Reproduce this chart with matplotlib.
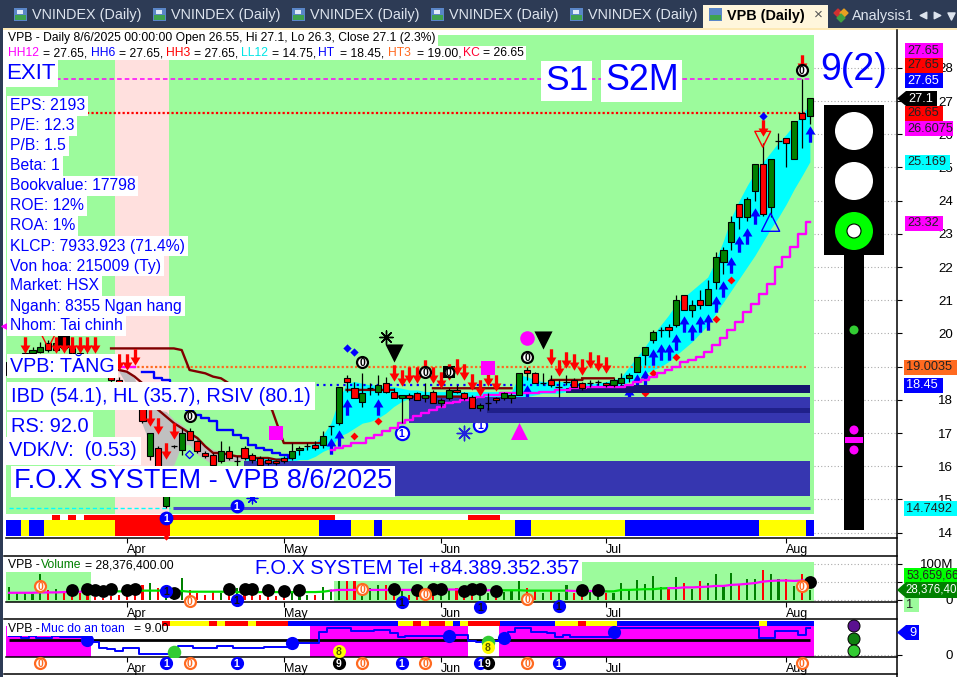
import numpy as np
import matplotlib
matplotlib.use("Agg")
import matplotlib.pyplot as plt
from matplotlib.path import Path
from matplotlib.patches import Rectangle, Circle, Polygon

plt.rcParams["font.family"] = ["Liberation Sans", "DejaVu Sans"]

W, H = 957, 677

# price candles, one row per session
opens = [18.75, 19.1, 19.3, 19.4, 19.45, 19.7, 19.5, 19.7, 19.55, 19.4, 19.25, 19.1, 18.95, 18.8, 18.6, 18.45, 18.3,
         17.75, 16.3, 16.55, 14.8, 16.6, 16.5, 17.05, 16.75, 16.4, 16.35, 16.15, 16.45, 16.15, 16.55, 16.35, 16.25,
         16.2, 16.15, 16.25, 16.25, 16.5, 16.6, 16.65, 16.65, 17.2, 17.3, 18.65, 18.35, 17.95, 18.35, 18.25, 18.5,
         18.25, 18.05, 18.15, 18.2, 18.05, 18.25, 17.9, 18.05, 18.3, 18.2, 18.1, 17.75, 17.9, 18.05, 18.05, 18.05,
         18.15, 18.9, 18.8, 18.5, 18.6, 18.4, 18.55, 18.6, 18.5, 18.5, 18.55, 18.5, 18.45, 18.5, 18.65, 18.85, 19.35,
         19.8, 20.1, 20.2, 20.25, 21.15, 20.7, 21.0, 20.85, 21.55, 22.15, 22.75, 23.9, 23.5, 24.3, 25.1, 23.8, 25.8,
         25.9, 25.25, 26.65, 26.55]
highs = [19.15, 19.35, 19.5, 19.6, 19.75, 19.8, 19.75, 19.8, 19.65, 19.55, 19.4, 19.2, 19.05, 18.85, 18.7, 18.55, 18.4,
         17.75, 17.0, 16.6, 15.6, 16.65, 17.15, 17.15, 16.8, 16.45, 16.4, 16.75, 16.6, 16.3, 16.6, 16.4, 16.3,
         16.25, 16.2, 16.3, 16.7, 16.6, 16.7, 16.75, 17.05, 17.2, 18.4, 18.75, 18.55, 18.8, 18.5, 18.75, 18.7,
         18.35, 18.15, 18.2, 18.25, 18.5, 18.3, 18.05, 18.35, 18.45, 18.25, 18.15, 17.9, 18.2, 18.1, 18.25, 18.2,
         18.8, 19.0, 18.85, 18.8, 18.75, 18.6, 18.75, 18.65, 18.55, 18.6, 18.6, 18.55, 18.65, 18.8, 18.8, 19.3, 19.6,
         20.1, 20.2, 20.3, 21.15, 21.15, 21.0, 21.3, 21.6, 22.45, 22.6, 23.55, 23.9, 24.1, 25.1, 25.75, 25.25, 26.05,
         25.9, 26.4, 27.65, 27.1]
lows = [18.75, 19.0, 19.2, 19.3, 19.4, 19.45, 19.45, 19.5, 19.3, 19.2, 19.0, 18.85, 18.7, 18.55, 18.3, 18.2, 17.9,
        17.3, 16.2, 15.5, 14.75, 16.55, 16.35, 16.8, 16.4, 16.25, 16.05, 16.1, 16.2, 16.0, 16.2, 16.1, 16.0,
        16.05, 16.05, 16.1, 16.2, 16.35, 16.5, 16.5, 16.55, 16.95, 17.25, 18.25, 18.05, 17.8, 18.15, 18.15, 18.2,
        18.05, 17.3, 18.0, 18.0, 17.95, 17.9, 17.8, 18.0, 18.2, 18.0, 17.75, 17.65, 17.7, 17.9, 18.0, 17.9,
        18.15, 18.6, 18.5, 18.45, 18.4, 18.1, 18.45, 18.4, 18.3, 18.4, 18.45, 18.4, 18.4, 18.45, 18.55, 18.85, 19.05,
        19.7, 19.9, 19.9, 20.2, 20.7, 20.5, 20.75, 20.85, 21.35, 21.8, 22.5, 23.15, 23.4, 24.0, 23.55, 23.5, 25.55,
        25.0, 25.25, 25.6, 26.3]
closes = [19.15, 19.3, 19.4, 19.5, 19.6, 19.5, 19.7, 19.55, 19.4, 19.25, 19.1, 18.95, 18.8, 18.6, 18.4, 18.3, 18.0,
          17.35, 17.0, 15.6, 15.5, 16.6, 17.0, 16.8, 16.45, 16.3, 16.05, 16.45, 16.25, 16.15, 16.25, 16.2, 16.05,
          16.1, 16.1, 16.15, 16.45, 16.55, 16.6, 16.55, 16.9, 17.2, 18.4, 18.55, 18.05, 18.2, 18.35, 18.45, 18.25,
          18.05, 18.15, 18.05, 18.0, 18.15, 17.9, 18.0, 18.3, 18.25, 18.05, 17.75, 17.85, 17.9, 18.0, 18.2, 18.15,
          18.8, 18.8, 18.5, 18.5, 18.45, 18.4, 18.55, 18.4, 18.35, 18.5, 18.55, 18.45, 18.6, 18.65, 18.75, 19.3, 19.6,
          20.05, 20.1, 20.1, 21.0, 20.7, 20.85, 20.85, 21.35, 22.3, 22.5, 23.35, 23.5, 24.05, 25.1, 23.6, 25.25, 25.8,
          25.75, 26.4, 26.45, 27.1]

month_pos = [15, 35, 55, 76, 99]
month_names = ["Apr", "May", "Jun", "Jul", "Aug"]
price_ticks = list(range(14, 29))

# bands
cyan_x = list(range(30, 103))
cyan_up = [16.25, 16.25, 16.25, 16.25, 16.25, 16.3, 16.4, 16.5, 16.6, 16.7, 16.95, 17.3, 18.0, 18.5, 18.55, 18.5,
           18.45, 18.45, 18.4, 18.4, 18.35, 18.3, 18.3, 18.25, 18.25, 18.25, 18.25, 18.25, 18.25, 18.25, 18.25, 18.25,
           18.25, 18.25, 18.25, 18.75, 18.7, 18.6, 18.55, 18.55, 18.55, 18.55, 18.55, 18.5, 18.5, 18.5, 18.55, 18.6,
           18.7, 19.0, 19.3, 19.6, 19.95, 20.25, 20.55, 20.9, 21.1, 21.3, 21.5, 21.7, 22.2, 22.8, 23.5, 24.0, 24.45,
           24.85, 25.15, 25.45, 25.75, 26.0, 26.3, 26.6, 26.9]
cyan_lo = [16.2, 16.15, 16.15, 16.15, 16.1, 16.1, 16.15, 16.2, 16.2, 16.3, 16.45, 16.55, 16.9, 17.0, 17.15, 17.3,
           17.35, 17.45, 17.6, 17.8, 17.95, 18.05, 18.1, 18.05, 18.05, 18.05, 18.05, 18.05, 18.05, 18.05, 18.05, 18.05,
           18.05, 18.05, 18.05, 18.05, 18.1, 18.15, 18.2, 18.2, 18.2, 18.25, 18.25, 18.3, 18.3, 18.3, 18.35, 18.4,
           18.45, 18.55, 18.65, 18.8, 18.9, 19.0, 19.15, 19.35, 19.55, 19.75, 20.0, 20.25, 20.6, 20.95, 21.3, 21.65,
           22.0, 22.35, 22.75, 23.15, 23.5, 23.9, 24.35, 24.75, 25.17]
gray_x = list(range(14, 31))
gray_up = [18.9, 18.85, 18.65, 17.85, 17.75, 17.7, 17.65, 17.4, 17.25, 17.05, 16.8, 16.65, 16.5, 16.45, 16.35, 16.3, 16.3]
gray_lo = [18.85, 18.45, 18.15, 17.25, 16.65, 15.9, 15.9, 16.05, 16.65, 16.65, 16.35, 16.2, 16.05, 16.15, 16.15, 16.15, 16.2]

# support / resistance blocks
block_start = [29.9, 50.9, 60.9, 70.9, 77.8]
block_lo = [15.1, 17.3, 17.6, 18.2, 18.2]
block_hi = [16.15, 18.1, 17.75, 18.35, 18.45]
block_col = ["#3636b0", "#3636b0", "#20208a", "#14146e", "#14146e"]

# lines
trail_x = [14, 15, 16] + list(range(41, 103))
trail_y = [19.0, 19.0, 19.0, 16.5, 16.55, 16.6, 16.7, 16.7, 16.85, 16.95, 17.05, 17.15, 17.3, 17.4, 17.5, 17.6, 17.7,
           17.8, 17.9, 17.95, 18.0, 18.05, 18.1, 18.15, 18.15, 18.2, 18.2, 18.2, 18.2, 18.2, 18.25, 18.25, 18.3, 18.3,
           18.35, 18.35, 18.4, 18.4, 18.4, 18.4, 18.4, 18.45, 18.55, 18.6, 18.7, 18.8, 18.9, 19.0, 19.15, 19.2, 19.3,
           19.45, 19.65, 19.85, 20.1, 20.35, 20.65, 20.9, 21.2, 21.5, 22.0, 22.3, 22.6, 23.0, 23.35]
blue_step_x = list(range(17, 37))
blue_step_y = [18.85, 18.85, 18.65, 18.6, 18.4, 18.0, 17.7, 17.55, 17.45, 17.35, 17.1, 17.1, 16.95, 16.85, 16.65, 16.55,
               16.5, 16.4, 16.35, 16.25]
res_x = list(range(13, 34)) + [33.5, 35, 40, np.nan] + list(range(14, 18)) + [np.nan] + list(range(19, 36)) + [np.nan]
res_y = [19.55] * 9 + [19.5, 18.9, 18.85, 18.8, 18.7, 18.65, 18.5, 18.4, 18.3, 18.1, 17.95, 17.8, 17.7, 16.7, 16.7, np.nan,
         18.9, 18.85, 18.7, 18.5, np.nan, 17.7, 17.5, 17.3, 17.15, 17.0, 16.85, 16.6, 16.4, 16.4, 16.35, 16.3, 16.3,
         16.25, 16.25, 16.25, 16.2, 16.2, np.nan]
res_x += [43, 49, np.nan, 49, 58, np.nan, 54, 64, np.nan, 69, 73, np.nan, 73, 77]
res_y += [18.3, 18.3, np.nan, 18.1, 18.1, np.nan, 18.35, 18.35, np.nan, 18.6, 18.6, np.nan, 18.65, 18.65]

# arrows
down_x = [2, 6, 7, 8, 9, 10, 11, 14, 15, 16, 18, 19, 20, 21, 49, 50, 51, 52, 53, 54, 55, 56, 57, 58, 59, 60, 61, 62,
          69, 70, 71, 72, 73, 74, 75, 76, 96, 101]
down_y = [19.65, 19.65, 19.65, 19.65, 19.65, 19.65, 19.65, 19.15, 19.15, 19.3, 17.45, 17.2, 16.45, 17.05, 18.8, 18.65,
          18.75, 18.75, 18.95, 18.75, 18.6, 18.85, 19.0, 18.85, 18.55, 18.35, 18.65, 18.5, 19.3, 18.95, 19.2, 19.15,
          19.0, 19.2, 19.1, 19.05, 26.2, 28.15]
up_x = [41, 42, 43, 47, 66, 79, 80, 81, 82, 83, 84, 85, 86, 87, 88, 89, 90, 91, 92, 93, 94, 95, 102]
up_y = [16.6, 16.85, 17.8, 17.8, 18.2, 18.15, 18.55, 18.65, 19.3, 19.45, 19.45, 19.75, 20.3, 20.05, 20.3, 20.35, 20.9,
        21.35, 22.05, 22.7, 22.95, 23.55, 26.0]

# small marks
red_dia_x = [44, 47, 81, 82, 85, 90, 92]
red_dia_y = [16.9, 17.35, 18.2, 18.8, 19.3, 20.45, 21.6]
blue_dia_x = [43, 44, 96]
blue_dia_y = [19.55, 19.45, 26.55]
ring_x = [45, 53, 66, 23, 101]
ring_y = [19.15, 18.85, 19.3, 17.5, 27.95]
one_x = [50, 60]
one_y = [17.0, 17.25]
one_fill_x = [29, 20]
one_fill_y = [14.8, 14.45]

# volume pane, millions
volumes = [37, 21, 19, 17, 73, 29, 30, 21, 24, 19, 24, 8, 6, 12, 15, 15, 42, 42, 47, 33, 40, 29, 61, 29, 19, 15, 21, 19,
           15, 33, 29, 17, 15, 12, 12, 19, 24, 21, 15, 15, 36, 29, 57, 57, 52, 47, 33, 42, 42, 19, 29, 15, 19, 29, 33,
           33, 29, 33, 29, 24, 24, 19, 8, 21, 29, 57, 33, 24, 19, 24, 19, 42, 19, 12, 24, 12, 19, 19, 47, 24, 55, 45,
           68, 36, 36, 64, 47, 31, 52, 47, 73, 42, 75, 42, 57, 58, 84, 73, 57, 57, 40, 73, 28.4]
vol_ma = [20, 20, 20, 20, 21, 21, 21, 22, 22, 23, 24, 24, 24, 24, 24, 24, 25, 26, 26, 26, 27, 25, 25, 23, 23, 23, 23, 23,
          23, 22, 22, 22, 22, 22, 22, 22, 22, 22, 22, 22, 23, 26, 28, 28, 28, 28, 28, 28, 28, 28, 28, 28, 28, 28, 28,
          29, 29, 29, 29, 28, 27, 27, 27, 27, 27, 27, 26, 26, 26, 26, 26, 26, 25, 25, 25, 24, 24, 24, 28, 28, 29, 30,
          30, 32, 33, 33, 35, 35, 36, 37, 39, 39, 42, 43, 45, 47, 51, 53, 54, 54, 53, 54, 54]
ma_runs = [(11, "#ff00ff"), (30, "#00e000"), (21, "#ff00ff"), (9, "#00e000"), (5, "#ff00ff"), (8, "#00e000"),
           (19, "#ff00ff")]
black_x = [8, 10, 11, 12, 13, 15, 16, 21, 28, 30, 31, 33, 35, 37, 49, 52, 54, 55, 58, 59, 60, 62, 73, 75, 102]
black_y = [28, 30, 28, 26, 30, 28, 30, 20, 30, 30, 30, 28, 26, 28, 30, 28, 30, 30, 26, 30, 30, 26, 29, 28, 49]
vol_zero_x = [4, 23, 45, 53, 66, 101]
vol_zero_y = [40, -4, 31, 16, 3, 40]
vol_one_x = [20, 29, 50, 60, 70]
vol_one_y = [24, -1, -6, -19, -16]

# safety pane
safety = [6.2, 6.4, 5.8, 6.4, 5.8, 5.8, 6.2, 6.0, 6.0, 5.9, 5.0, 4.4, 2.2, 2.0, 1.2, 2.3, 2.3, 0.4, 0.4, 0.3, 0.3, 0.3,
          3.1, 3.1, 2.3, 2.3, 2.3, 3.1, 3.1, 2.3, 2.3, 2.3, 2.3, 2.5, 2.5, 2.5, 4.0, 4.0, 4.0, 4.0, 7.6, 9.0, 9.0, 9.0,
          7.9, 7.9, 7.9, 8.2, 8.2, 7.3, 6.0, 6.2, 6.2, 6.2, 6.2, 6.2, 6.2, 6.5, 6.5, 4.6, 4.3, 4.6, 4.6, 5.7, 7.5, 9.0,
          9.0, 7.6, 7.6, 7.2, 6.0, 6.8, 5.9, 5.9, 5.9, 5.9, 5.9, 7.6, 9.0, 9.0, 9.0, 9.0, 9.0, 9.0, 9.0, 9.0, 9.0, 9.0,
          9.0, 9.0, 9.0, 9.0, 9.0, 9.0, 9.0, 9.0, 5.7, 5.7, 7.9, 7.9, 7.9, 6.8, 9.0]
safety_blue_x = [10, 36, 56, 63, 77]
safety_top_runs = [("r", 1), ("y", 5), ("r", 1), ("y", 1), ("r", 3), ("y", 1), ("r", 4), ("b", 14), ("y", 2), ("r", 1),
                   ("y", 1), ("r", 2), ("y", 1), ("b", 1), ("y", 1), ("r", 4), ("b", 7), ("y", 3), ("r", 1), ("y", 4),
                   ("b", 18), ("y", 1), ("b", 6)]
strip_low_runs = [("b", 2), ("y", 1), ("b", 2), ("y", 9), ("r", 7), ("y", 19), ("b", 4), ("y", 3), ("b", 1), ("y", 17),
                  ("b", 2), ("y", 12), ("b", 17), ("y", 6), ("b", 1)]
strip_top_bars = [6, 8] + list(range(10, 42)) + [59, 60, 61, 62]
run_col = {"r": "#ff0000", "y": "#ffff00", "b": "#0000ff"}

GREEN = "#9cfb9c"
PINK = "#ffe0de"
CANDLE_G = "#008000"
BLUE = "#0000ff"


def pane(y0, y1):
    # axes between two pixel rows, same bar scale everywhere
    a = fig.add_axes([6 / W, 1 - y1 / H, (897 - 6) / W, (y1 - y0) / H])
    a.set_xlim(-0.38, 113.1)
    a.patch.set_alpha(0)
    for s in ["top", "left"]:
        a.spines[s].set_visible(False)
    a.spines["right"].set_visible(False)
    return a


def right_ticks(a, ticks, labels):
    a.yaxis.tick_right()
    a.set_yticks(ticks)
    a.set_yticklabels(labels, fontsize=9.6)
    a.tick_params(axis="y", length=3.6, width=0.8, pad=36.7)
    for t in a.yaxis.get_major_ticks():
        t.label2.set_ha("right")
    a.hlines(ticks, 102.5, 113.1, color="#aaaaaa", lw=0.8, ls=(0, (1, 2)))


def month_ticks(a):
    a.set_xticks(month_pos)
    a.set_xticklabels(month_names, fontsize=9, ha="left")
    a.tick_params(axis="x", length=3.6, width=0.8, pad=1)
    a.spines["bottom"].set_linewidth(1.1)


def runs(a, seq, start, y, h):
    pos = start
    for code, n in seq:
        a.broken_barh([(pos - 0.5, n)], (y, h), color=run_col[code], lw=0)
        pos += n


def badge(a, x, y, txt, edge, face="white", col=None, size=68, z=7):
    a.scatter([x], [y], s=size, facecolor=face, edgecolor=edge, lw=1.6, zorder=z, clip_on=False)
    a.text(x, y, txt, color=col or edge, fontsize=7.5, fontweight="bold", ha="center", va="center_baseline",
           zorder=z + 0.1, clip_on=False)


fig = plt.figure(figsize=(W / 100, H / 100), dpi=100)

# ---- colour strip under the price pane
strip = pane(515, 537)
strip.set_ylim(22, 0)
strip.axis("off")
for b in strip_top_bars:
    strip.broken_barh([(b - 0.5, 1)], (0, 5), color="#ff0000", lw=0)
runs(strip, strip_low_runs, 0, 5, 16)

# ---- price pane
ax = pane(30, 538)
ax.set_zorder(3)
ax.set_ylim(13.84, 29.14)
ax.add_patch(Rectangle((-0.38, 14.57), 102.88, 14.42, fc=GREEN, ec="none", zorder=0))
ax.add_patch(Rectangle((13.5, 14.57), 6.9, 14.42, fc=PINK, ec="none", zorder=0.1))
ax.fill_between(gray_x, gray_lo, gray_up, color="#c0c0c0", lw=0, zorder=1)
ax.fill_between(cyan_x, cyan_lo, cyan_up, color="#00ffff", lw=0, zorder=1)

arrow_down = Path([(-0.1, 0.5), (0.1, 0.5), (0.1, 0), (0.3, 0), (0, -0.5), (-0.3, 0), (-0.1, 0), (-0.1, 0.5)],
                  closed=True)
arrow_up = Path([(-0.1, -0.5), (0.1, -0.5), (0.1, 0), (0.3, 0), (0, 0.5), (-0.3, 0), (-0.1, 0), (-0.1, -0.5)],
                closed=True)
ax.scatter(up_x, up_y, marker=arrow_up, s=140, color=BLUE, lw=0, zorder=2.5)
ax.scatter(red_dia_x, red_dia_y, marker="D", s=16, color="#ff0000", lw=0, zorder=2.5)
ax.scatter([65], [17.05], marker="^", s=150, color="#ff00ff", lw=0, zorder=2.5)
ax.scatter([31], [15.05], marker=(8, 2, 0), s=60, color=BLUE, lw=0.9, zorder=2.5)
for x, y in zip(one_x, one_y):
    badge(ax, x, y, "1", BLUE, z=2.6, size=90)

for x0, lo, hi, c in zip(block_start, block_lo, block_hi, block_col):
    ax.broken_barh([(x0, 102 - x0)], (lo, hi - lo), color=c, lw=0, zorder=3)

ax.hlines(27.65, 6, 102, color="#ff00ff", lw=1.1, ls=(0, (3, 2)), zorder=2)
ax.hlines(26.65, 10, 102, color="#ff0000", lw=1.6, ls=(0, (1, 1)), zorder=2)
ax.hlines(19.0, 13.5, 101.5, color="#ff6a20", lw=1.6, ls=(0, (1, 1)), zorder=2)
ax.hlines(18.45, 38.3, 77.5, color=BLUE, lw=1.6, ls=(0, (1, 2)), zorder=2.2)
ax.hlines(14.75, 0, 20.5, color="#00ffff", lw=1.0, ls=(0, (3, 2)), zorder=2)
ax.hlines(14.75, 20.9, 102, color="#4444cc", lw=2.2, zorder=2)
ax.plot(res_x, res_y, color="#800000", lw=1.7, zorder=3.5)
ax.step(trail_x[3:], trail_y[3:], where="mid", color="#ff00ff", lw=1.7, zorder=3.4)
ax.plot(trail_x[:3], trail_y[:3], color="#ff00ff", lw=1.7, zorder=3.4)
ax.step(blue_step_x, blue_step_y, where="mid", color=BLUE, lw=1.7, zorder=3.4)

# candles
idx = np.arange(len(opens))
ax.vlines(idx, lows, highs, color="black", lw=0.9, zorder=4)
for i, o, c in zip(idx, opens, closes):
    if c == o:
        ax.hlines(c, i - 0.4, i + 0.4, color="black", lw=0.9, zorder=4.1)
    else:
        ax.bar(i, abs(c - o), bottom=min(o, c), width=0.78, color=CANDLE_G if c > o else "#ff0000",
               edgecolor="black", lw=0.8, zorder=4.1)

ax.scatter(down_x, down_y, marker=arrow_down, s=140, color="#ff0000", lw=0, zorder=5)
ax.scatter(blue_dia_x, blue_dia_y, marker="D", s=18, color=BLUE, lw=0, zorder=5)
ax.scatter([49, 68], [19.4, 19.8], marker="v", s=170, color="black", lw=0, zorder=5)
ax.scatter([48], [19.9], marker=(8, 2, 0), s=90, color="black", lw=1.0, zorder=5)
ax.scatter([58], [17.0], marker=(8, 2, 0), s=110, color="#2222dd", lw=1.0, zorder=5)
ax.scatter([66], [19.85], marker="o", s=110, color="#ff00ff", lw=0, zorder=5)
ax.scatter([61, 34], [18.95, 17.0], marker="s", s=95, color="#ff00ff", lw=0, zorder=5)
ax.scatter([56, 7], [18.85, 19.75], marker="s", s=70, color="black", lw=0, zorder=4.8)
ax.scatter([96, 5], [25.85, 19.8], marker="v", s=130, facecolor="none", edgecolor="#ff0000", lw=1.0, zorder=5)
ax.scatter([97], [23.35], marker="^", s=170, facecolor="none", edgecolor=BLUE, lw=1.0, zorder=5)
ax.scatter([23], [16.35], marker="D", s=16, facecolor="none", edgecolor=BLUE, lw=0.9, zorder=5)
for x, y in zip(ring_x, ring_y):
    badge(ax, x, y, "0", "black", size=62)
badge(ax, 56, 18.85, "0", "black", size=48)
for x, y in zip(one_fill_x, one_fill_y):
    badge(ax, x, y, "1", BLUE, face=BLUE, col="white", size=70)
ax.scatter([20], [13.87], marker="D", s=10, color="#ff0000", lw=0, zorder=5, clip_on=False)
right_ticks(ax, price_ticks, [str(v) for v in price_ticks])
month_ticks(ax)

# ---- volume pane
vol = pane(555, 602)
vol.set_ylim(-5.6, 125)
vol.set_zorder(2)
vol.add_patch(Rectangle((-0.38, -5.6), 10.8, 83.6, fc=GREEN, ec="none", zorder=0))
vol.add_patch(Rectangle((41.4, -5.6), 61.1, 110.6, fc=GREEN, ec="none", zorder=0))
vol_cols = [CANDLE_G if closes[i] >= opens[i] else "#ff0000" for i in idx]
vol.bar(idx, volumes, width=0.27, color=vol_cols, lw=0, zorder=2)
pos = 0
for n, c in ma_runs:
    vol.plot(idx[pos:pos + n + 1], vol_ma[pos:pos + n + 1], color=c, lw=1.6, zorder=3)
    pos += n
vol.scatter(black_x, black_y, s=85, color="black", lw=0, zorder=4)
for x, y in zip(vol_zero_x, vol_zero_y):
    badge(vol, x, y, "0", "#ff6a20", size=62)
for x, y in zip(vol_one_x, vol_one_y):
    badge(vol, x, y, "1", BLUE, face=BLUE, col="#111111", size=62)
right_ticks(vol, [0, 50, 100], ["0", "", "100M"])
month_ticks(vol)

# ---- safety pane
saf = pane(619, 657)
saf.set_ylim(-0.67, 12)
saf.set_zorder(2)
for x0, w in [(-0.38, 10.8), (38.4, 20), (62.4, 40.1)]:
    saf.add_patch(Rectangle((x0, -0.67), w, 10.34, fc="#ff00ff", ec="none", zorder=0))
runs(saf, safety_top_runs, 20, 9.67, 1.67)
saf.hlines(5, 0, 102, color="black", lw=2, zorder=2)
saf.step(idx, safety, where="mid", color=BLUE, lw=1.4, zorder=3)
saf.scatter(safety_blue_x, [safety[i] for i in safety_blue_x], s=90, color=BLUE, lw=0, zorder=4)
saf.scatter([21, 61], [0.9, 4.2], s=95, color="#33cc33", lw=0, zorder=4)
right_ticks(saf, [0], ["0"])
month_ticks(saf)
badge(saf, 4, -2.7, "0", "#ff6a20", size=62)
for x in [23, 45, 53, 66, 101]:
    badge(saf, x, -2.7, "0", "#ff6a20", size=62)
for x in [20, 29, 50, 60, 70]:
    badge(saf, x, -2.7, "1", BLUE, face=BLUE, col="white", size=62)
for x in [42, 61]:
    badge(saf, x, -2.7, "9", "black", face="black", col="white", size=62)
badge(saf, 42, 1.3, "8", "#ffff00", face="#ffff00", col="#555500", size=60)
badge(saf, 61, 2.6, "8", "#ffff00", face="#ffff00", col="#555500", size=60)

# ---- window chrome and labels, drawn in pixels
ui = fig.add_axes([0, 0, 1, 1], zorder=10)
ui.set_xlim(0, W)
ui.set_ylim(H, 0)
ui.axis("off")
ui.patch.set_alpha(0)


def rect(x0, y0, x1, y1, c, z=1):
    ui.add_patch(Rectangle((x0, y0), x1 - x0, y1 - y0, fc=c, ec="none", zorder=z))


def label(x, y, s, size, c=BLUE, box=True, ha="left", pad=2.0, **kw):
    bb = dict(fc="white", ec="none", pad=pad) if box else None
    ui.text(x, y, s, fontsize=size, color=c, ha=ha, va="center", bbox=bb, zorder=5, **kw)


rect(0, 0, W, 28, "#2d3b55")
rect(0, 28, W, 30, "#fde9b5")
rect(0, 28, 3, H, "#2d3b55")
for x in [14, 153, 292, 431, 570]:
    rect(x, 8, x + 13, 21, "#5a86c8", 2)
    rect(x + 1, 15, x + 12, 20, "#3fa34d", 3)
    rect(x + 3, 10, x + 9, 14, "#dfeaf7", 3)
    ui.text(x + 18, 15.5, "VNINDEX (Daily)", fontsize=10.4, color="#dde4ee", va="center", zorder=4)
rect(703, 5, 828, 28, "#fff6dc")
rect(709, 8, 722, 21, "#5a86c8", 2)
rect(710, 15, 721, 20, "#3fa34d", 3)
ui.text(727, 16, "VPB (Daily)", fontsize=10.4, fontweight="bold", color="black", va="center", zorder=4)
ui.text(818, 15, "×", fontsize=11, color="#555555", ha="center", va="center", zorder=4)
ui.scatter([838, 844, 841], [13, 13, 18], marker="D", s=16, color=["#d03030", "#e8a020", "#40a040"], zorder=4)
ui.text(852, 16, "Analysis1", fontsize=10.4, color="#dde4ee", va="center", zorder=4)
ui.scatter([923], [15], marker="<", s=22, color="#dde4ee", zorder=4)
ui.scatter([937], [15], marker=">", s=22, color="#dde4ee", zorder=4)
ui.scatter([951], [16], marker="v", s=26, color="#dde4ee", zorder=4)

# pane borders
ui.plot([896.5, 896.5], [30, 677], color="black", lw=1.1)
ui.plot([4, 897], [555.5, 555.5], color="black", lw=1.1)
ui.plot([4, 897], [619, 619], color="black", lw=1.1)
ui.plot([4, 897], [674, 674], color="black", lw=1.1)

# header
rect(6, 32, 438, 46, "white", 4)
rect(6, 46, 526, 60, "white", 4)
ui.text(8, 38.5, "VPB - Daily 8/6/2025 00:00:00 Open 26.55, Hi 27.1, Lo 26.3, Close 27.1 (2.3%)", fontsize=8.7,
        color="black", va="center", zorder=5)
head_x = [8, 43, 91, 119, 166, 194, 241, 272, 318, 340, 388, 417, 463, 483]
head_s = ["HH12", "= 27.65,", "HH6", "= 27.65,", "HH3", "= 27.65,", "LL12", "= 14.75,", "HT", "= 18.45,", "HT3",
          "= 19.00,", "KC", "= 26.65"]
head_c = ["#ff00ff", "black", "#0000ff", "black", "#ff0000", "black", "#00e5e5", "black", "#0000ff", "black", "#ff6a20",
          "black", "#ff0030", "black"]
for x, s, c in zip(head_x, head_s, head_c):
    ui.text(x, 53, s, fontsize=8.7, color=c, va="center", zorder=5)

label(6, 73.5, "EXIT", 16)
stats = ["EPS: 2193", "P/E: 12.3", "P/B: 1.5", "Beta: 1", "Bookvalue: 17798", "ROE: 12%", "ROA: 1%",
         "KLCP: 7933.923 (71.4%)", "Von hoa: 215009 (Ty)", "Market: HSX", "Nganh: 8355 Ngan hang", "Nhom: Tai chinh"]
for i, s in enumerate(stats):
    label(10, 106 + 20 * i, s, 11.3)
ui.scatter([6], [326], marker="<", s=45, color="#ff00ff", zorder=4)
label(10, 366, "VPB: TĂNG", 14.2)
label(11, 396, "IBD (54.1), HL (35.7), RSIV (80.1)", 14.4, pad=3)
label(11, 426, "RS: 92.0", 14.4, pad=3)
label(9, 451, "VDK/V:  (0.53)", 14.4, pad=3)
label(14, 481.5, "F.O.X SYSTEM - VPB 8/6/2025", 19.5)
label(545, 81, "S1", 25.5, pad=2.5)
label(605, 81, "S2M", 25.8, pad=2.5)
label(820, 70, "9(2)", 27, box=False)
label(255, 569, "F.O.X SYSTEM Tel +84.389.352.357", 14.4)

# pane captions
rect(7, 558, 175, 572, "white", 4)
ui.text(8, 565, "VPB - ", fontsize=8.7, color="black", va="center", zorder=5)
ui.text(41, 565, "Volume", fontsize=8.7, color="#008000", va="center", zorder=5)
ui.text(85, 565, "= 28,376,400.00", fontsize=8.7, color="black", va="center", zorder=5)
rect(7, 622, 161, 636, "white", 4)
ui.text(8, 629, "VPB - ", fontsize=8.7, color="black", va="center", zorder=5)
ui.text(41, 629, "Muc do an toan", fontsize=8.7, color=BLUE, va="center", zorder=5)
ui.text(134, 629, "= 9.00", fontsize=8.7, color="black", va="center", zorder=5)

# traffic light
rect(824, 105, 884, 255, "black", 2)
rect(844, 255, 864, 530, "black", 2)
ui.add_patch(Circle((854, 131), 19, fc="white", ec="none", zorder=3))
ui.add_patch(Circle((854, 181), 19, fc="white", ec="none", zorder=3))
ui.add_patch(Circle((854, 231), 19, fc="#00ff00", ec="none", zorder=3))
ui.add_patch(Circle((854, 231), 7, fc="white", ec="black", lw=0.8, zorder=4))
ui.add_patch(Circle((854, 330), 4.5, fc="#33cc33", ec="none", zorder=3))
ui.add_patch(Circle((854, 430), 4.5, fc="#ff00ff", ec="none", zorder=3))
ui.add_patch(Circle((854, 450), 4.5, fc="#ff00ff", ec="none", zorder=3))
rect(845, 437, 863, 443, "#ff00ff", 3)
ui.scatter([854, 854, 854], [626, 639, 651], s=75, color=["#5a1090", "#108010", "#33cc33"], edgecolor="black", lw=0.7,
           zorder=3)

# value tags on the right
tag_x0 = [905, 905, 905, 905, 905, 905, 905, 904, 904, 904, 904, 904]
tag_x1 = [943, 943, 943, 943, 953, 950, 943, 957, 943, 957, 957, 919]
tag_y = [50.5, 65.5, 80.5, 113.5, 128.5, 162, 223.5, 367.5, 385.5, 508.5, 575, 604.5]
tag_s = ["27.65", "27.65", "27.65", "26.65", "26.6075", "25.169", "23.32", "19.0035", "18.45", "14.7492", "53,659,66",
         "1"]
tag_bg = ["#ff00ff", "#ff0000", "#0000ff", "#ff0000", "#ff00ff", "#00ffff", "#ff00ff", "#ff6a20", "#0000ff", "#00ffff",
          "#00ff00", GREEN]
tag_fg = ["#222222", "#222222", "white", "#222222", "#222222", "#222222", "#222222", "#222222", "white", "#222222",
          "#222222", "#222222"]
for x0, x1, y, s, bg, fg in zip(tag_x0, tag_x1, tag_y, tag_s, tag_bg, tag_fg):
    rect(x0, y - 7.5, x1, y + 7.5, bg, 3)
    ui.text(x0 + 2, y, s, fontsize=8.5 if "," in s else 9.2, color=fg, va="center", zorder=4)
ui.add_patch(Polygon([(897, 98.5), (906, 91), (937, 91), (937, 106), (906, 106)], fc="black", ec="none", zorder=3))
ui.text(908, 98.5, "27.1", fontsize=9.2, color="white", va="center", zorder=4)
ui.add_patch(Polygon([(897, 590), (906, 582), (957, 582), (957, 598), (906, 598)], fc="#008000", ec="none", zorder=3))
ui.text(905, 590, "28,376,40", fontsize=8.3, color="white", va="center", zorder=4)
ui.add_patch(Polygon([(897, 632.5), (906, 625), (919, 625), (919, 640), (906, 640)], fc=BLUE, ec="none", zorder=3))
ui.text(909, 632.5, "9", fontsize=9.2, color="white", va="center", zorder=4)

fig.savefig("out.png", dpi=100)
